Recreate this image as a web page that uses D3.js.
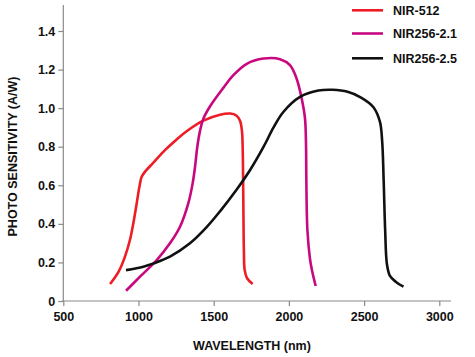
<!DOCTYPE html>
<html><head><meta charset="utf-8">
<script src="https://cdn.jsdelivr.net/npm/d3@7"></script>
<style>
html,body{margin:0;padding:0;background:#fff;}
svg{display:block;font-family:"Liberation Sans",Arial,sans-serif;}
</style></head>
<body>
<svg id="c" width="475" height="357"></svg>
<script>
const xTicks = [500,1000,1500,2000,2500,3000];
const yTicks = [0,0.2,0.4,0.6,0.8,1.0,1.2,1.4];
const seriesNames = ["NIR-512","NIR256-2.1","NIR256-2.5"];
const seriesColors = ["#ee1c25","#c8087f","#111111"];

const nir512 = [
 [811,0.088],[868,0.152],[910,0.23],[943,0.316],[965,0.40],[988,0.506],[1006,0.592],
 [1021,0.644],[1045,0.672],[1099,0.717],[1176,0.782],[1250,0.835],[1320,0.88],[1431,0.935],
 [1542,0.966],[1610,0.972],[1650,0.962],[1675,0.935],[1688,0.880],[1693,0.78],[1697,0.52],
 [1701,0.25],[1706,0.16],[1722,0.118],[1759,0.088]
];
const nir256_21 = [
 [917,0.053],[1010,0.126],[1121,0.212],[1209,0.299],[1276,0.385],[1331,0.506],[1360,0.61],
 [1376,0.696],[1391,0.80],[1409,0.882],[1431,0.945],[1476,1.01],[1564,1.105],
 [1631,1.171],[1720,1.23],[1831,1.257],[1941,1.254],[2007,1.223],[2051,1.154],[2085,1.05],
 [2107,0.947],[2114,0.80],[2116,0.627],[2123,0.368],[2140,0.22],[2152,0.165],[2178,0.078]
];
const nir256_25 = [
 [917,0.16],[1032,0.178],[1100,0.195],[1209,0.23],[1342,0.299],[1453,0.383],[1542,0.465],
 [1653,0.578],[1742,0.679],[1832,0.80],[1898,0.90],[1963,0.98],[2074,1.058],[2196,1.091],
 [2290,1.095],[2390,1.085],[2480,1.055],[2562,1.005],[2605,0.93],[2620,0.83],[2630,0.627],
 [2640,0.368],[2652,0.19],[2672,0.13],[2710,0.10],[2762,0.074]
];
const seriesData = [nir512, nir256_21, nir256_25];

const svg = d3.select("#c");
const x = d3.scaleLinear().domain([500,3000]).range([63.3,439.3]);
const y = d3.scaleLinear().domain([0,1.4]).range([301,31]);
const axisColor = "#8a8a8a";

svg.append("line").attr("x1",x(500)-1).attr("x2",451).attr("y1",y(0)).attr("y2",y(0))
  .attr("stroke",axisColor).attr("stroke-width",1.2);
svg.append("line").attr("x1",x(500)).attr("x2",x(500)).attr("y1",5).attr("y2",y(0))
  .attr("stroke",axisColor).attr("stroke-width",1.2);

const gx = svg.append("g").attr("transform",`translate(0,${y(0)})`)
  .call(d3.axisBottom(x).tickValues(xTicks).tickSize(5).tickPadding(6).tickFormat(d3.format("d")));
gx.select(".domain").remove();
gx.selectAll(".tick line").attr("stroke",axisColor).attr("stroke-width",1.2);
gx.selectAll(".tick text").attr("fill","#111").style("font-size","12.5px").style("font-weight","bold")
  .style("font-family","Liberation Sans, Arial, sans-serif");

const gy = svg.append("g").attr("transform",`translate(${x(500)},0)`)
  .call(d3.axisLeft(y).tickValues(yTicks).tickSize(5).tickPadding(3)
    .tickFormat(d => d===0 ? "0" : d3.format(".1f")(d)));
gy.select(".domain").remove();
gy.selectAll(".tick line").attr("stroke",axisColor).attr("stroke-width",1.2);
gy.selectAll(".tick text").attr("fill","#111").style("font-size","12.5px").style("font-weight","bold")
  .style("font-family","Liberation Sans, Arial, sans-serif");

svg.append("text").attr("x",252).attr("y",350).attr("text-anchor","middle")
  .style("font-size","12.5px").style("font-weight","bold").attr("fill","#111")
  .text("WAVELENGTH (nm)");
svg.append("text").attr("transform","translate(17,156.5) rotate(-90)").attr("text-anchor","middle")
  .style("font-size","12.5px").style("font-weight","bold").attr("fill","#111")
  .text("PHOTO SENSITIVITY (A/W)");

const line = d3.line().x(d=>x(d[0])).y(d=>y(d[1])).curve(d3.curveCatmullRom.alpha(0.5));
seriesData.forEach((data,i)=>{
  svg.append("path").datum(data).attr("d",line).attr("fill","none")
    .attr("stroke",seriesColors[i]).attr("stroke-width",2.6).attr("stroke-linecap","butt");
});

const legendY = [10.3,33.5,58.3];
seriesNames.forEach((n,i)=>{
  svg.append("line").attr("x1",352).attr("x2",383).attr("y1",legendY[i]).attr("y2",legendY[i])
    .attr("stroke",seriesColors[i]).attr("stroke-width",2.6);
  svg.append("text").attr("x",393).attr("y",legendY[i]+4.6)
    .style("font-size","12.5px").style("font-weight","bold").attr("fill","#111").text(n);
});
</script>
</body></html>
